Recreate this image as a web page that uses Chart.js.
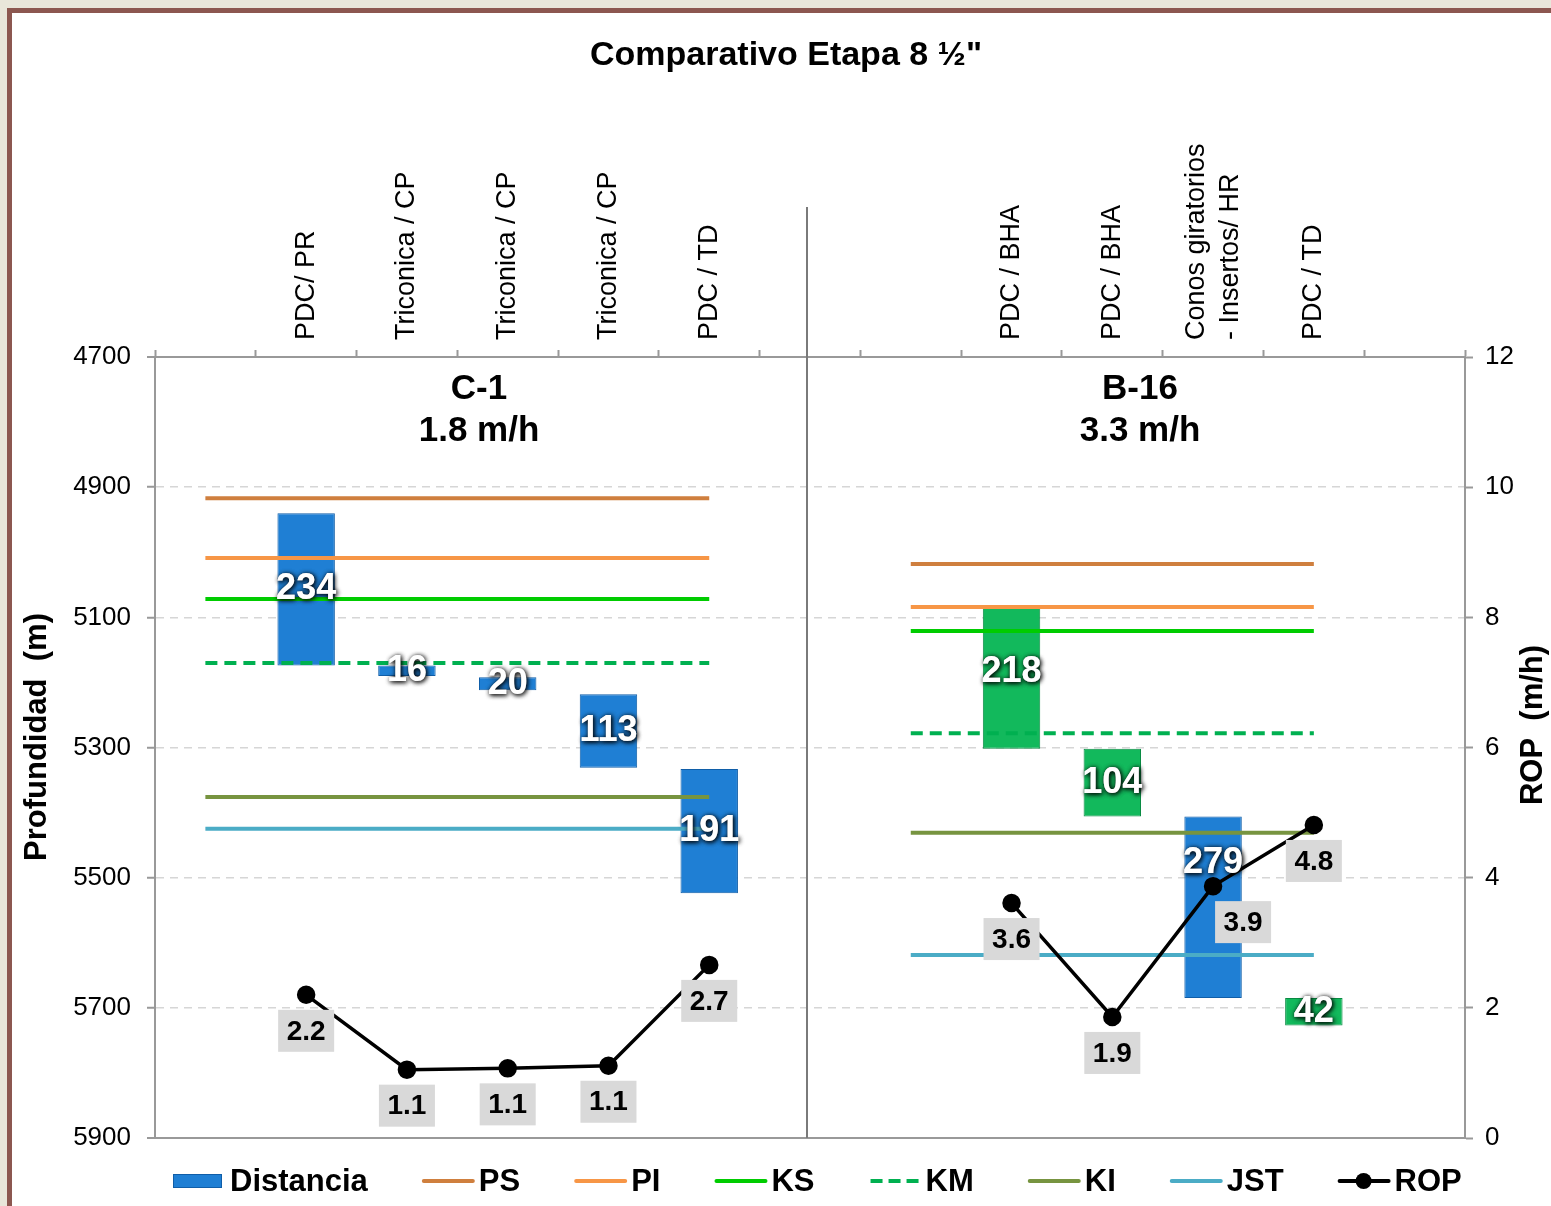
<!DOCTYPE html>
<html>
<head>
<meta charset="utf-8">
<script src="https://cdn.jsdelivr.net/npm/chart.js@4.4.1/dist/chart.umd.min.js"></script>
<style>
  html, body { margin: 0; padding: 0; background: #e9e6da; overflow: hidden; }
  #frame { position: absolute; left: 7px; top: 8px; width: 1600px; height: 1300px; border: 5px solid #8c5750; background: #fff; }
  #wrap { position: absolute; left: 0; top: 0; width: 1551px; height: 1206px; }
</style>
</head>
<body>
<div id="frame"></div>
<div id="wrap"><canvas id="depthChart" width="1551" height="1206"></canvas></div>
<script>
const categories = ['', 'PDC/ PR', 'Triconica / CP', 'Triconica / CP', 'Triconica / CP', 'PDC / TD', '', '',
    'PDC / BHA', 'PDC / BHA', ['Conos giratorios', '- Insertos/ HR'], 'PDC / TD', ''];

// tramo perforado por corrida (m)
const depthFrom = [null, 4940, 5174, 5192, 5218, 5333, null, null, 5084, 5302, 5406, 5685, null];
const depthTo   = [null, 5174, 5190, 5212, 5331, 5524, null, null, 5302, 5406, 5685, 5727, null];

// ROP por corrida (m/h)
const rop = [null, 2.2, 1.05, 1.07, 1.11, 2.66, null, null, 3.61, 1.86, 3.87, 4.81, null];

// topes de formacion [C-1, B-16]
const topPS  = [4917, 5018];
const topPI  = [5009, 5084];
const topKS  = [5072, 5121];
const topKM  = [5170, 5278];
const topKI  = [5376, 5431];
const topJST = [5425, 5619];

const wells = ['C-1', 'B-16'];
const wellRop = ['1.8 m/h', '3.3 m/h'];
const wellSpan = [[0, 5], [7, 11]];

const depthTicks = [4700, 4900, 5100, 5300, 5500, 5700, 5900];
const ropTicks = [0, 2, 4, 6, 8, 10, 12];

const BLUE = '#1f7fd4';
const GREEN = '#12b95c';
const greenRuns = [8, 9, 11];
const FONT = '"Liberation Sans", Arial, sans-serif';

function formationLine(tops) {
    return categories.map((c, i) => {
        const w = wellSpan.findIndex(s => i >= s[0] && i <= s[1]);
        return w < 0 ? null : tops[w];
    });
}

const runs = categories.map((c, i) => depthFrom[i] == null ? null : [depthFrom[i], depthTo[i]]);
const barColors = categories.map((c, i) => greenRuns.includes(i) ? GREEN : BLUE);
const barBorders = categories.map((c, i) => greenRuns.includes(i) ? '#0a8a43' : '#105ea8');

const formations = [
    { label: 'PS', tops: topPS, color: '#cf7f3e' },
    { label: 'PI', tops: topPI, color: '#f79646' },
    { label: 'KS', tops: topKS, color: '#00cc00' },
    { label: 'KM', tops: topKM, color: '#00b050', dash: [12, 7] },
    { label: 'KI', tops: topKI, color: '#779440' },
    { label: 'JST', tops: topJST, color: '#4bacc6' }
];

const lineSets = formations.map(f => ({
    type: 'line',
    label: f.label,
    data: formationLine(f.tops),
    yAxisID: 'y',
    borderColor: f.color,
    borderWidth: 4,
    borderDash: f.dash || [],
    pointRadius: 0,
    spanGaps: false,
    fill: false,
    order: 5
}));

// label tweaks (px)
const barLabelDy = { 8: -6, 10: -44 };
const ropLabelDx = { 10: 30 };

const decor = {
    id: 'decor',
    beforeDatasetsDraw(chart) {
        const { ctx, chartArea, scales } = chart;
        const x = scales.x.getPixelForValue(6) - 3;
        ctx.save();
        ctx.strokeStyle = '#7a7a7a';
        ctx.lineWidth = 2;
        ctx.beginPath();
        ctx.moveTo(x, 207);
        ctx.lineTo(x, chartArea.bottom);
        ctx.stroke();
        ctx.restore();
    },
    afterDatasetsDraw(chart) {
        const { ctx } = chart;
        const barMeta = chart.getDatasetMeta(0);
        ctx.save();
        ctx.textAlign = 'center';
        ctx.textBaseline = 'middle';
        ctx.font = 'bold 36px ' + FONT;
        barMeta.data.forEach((el, i) => {
            if (!runs[i]) return;
            const txt = String(depthTo[i] - depthFrom[i]);
            const y = (el.y + el.base) / 2 + (barLabelDy[i] || 0);
            ctx.shadowColor = 'rgba(0,0,0,0.85)';
            ctx.shadowBlur = 5;
            ctx.shadowOffsetX = 1;
            ctx.shadowOffsetY = 1;
            ctx.fillStyle = '#fff';
            ctx.fillText(txt, el.x, y);
            ctx.fillText(txt, el.x, y);
        });
        ctx.shadowBlur = 0;
        ctx.shadowOffsetX = 0;
        ctx.shadowOffsetY = 0;
        ctx.shadowColor = 'transparent';

        const ropMeta = chart.getDatasetMeta(chart.data.datasets.length - 1);
        ctx.font = 'bold 28px ' + FONT;
        ropMeta.data.forEach((pt, i) => {
            if (rop[i] == null) return;
            const cx = pt.x + (ropLabelDx[i] || 0);
            const cy = pt.y + 36;
            ctx.fillStyle = '#d9d9d9';
            ctx.fillRect(cx - 28, cy - 21, 56, 42);
            ctx.fillStyle = '#000';
            ctx.fillText(rop[i].toFixed(1), cx, cy + 1);
        });
        ctx.restore();
    },
    afterDraw(chart) {
        const { ctx, chartArea, scales } = chart;
        ctx.save();
        ctx.fillStyle = '#000';
        ctx.textAlign = 'center';
        ctx.textBaseline = 'middle';

        ctx.font = 'bold 34px ' + FONT;
        ctx.fillText('Comparativo Etapa 8 \u00bd"', 786, 56);

        // panel titles
        const mid = scales.x.getPixelForValue(6) - 3;
        const centers = [(chartArea.left + mid) / 2 - 2, (mid + chartArea.right) / 2 + 4];
        ctx.font = 'bold 35px ' + FONT;
        wells.forEach((w, k) => {
            ctx.fillText(w, centers[k], 389);
            ctx.fillText(wellRop[k], centers[k], 431);
        });

        // axis titles
        ctx.font = 'bold 31px ' + FONT;
        ctx.save();
        ctx.translate(37, 737);
        ctx.rotate(-Math.PI / 2);
        ctx.fillText('Profundidad  (m)', 0, 0);
        ctx.restore();
        ctx.save();
        ctx.translate(1533, 725);
        ctx.rotate(-Math.PI / 2);
        ctx.fillText('ROP  (m/h)', 0, 0);
        ctx.restore();

        // legend
        const items = [{ label: 'Distancia', kind: 'bar' }]
            .concat(formations.map(f => ({ label: f.label, kind: 'line', color: f.color, dash: f.dash })))
            .concat([{ label: 'ROP', kind: 'rop' }]);
        ctx.font = 'bold 31px ' + FONT;
        ctx.textAlign = 'left';
        let x = 173;
        const y = 1181;
        items.forEach(it => {
            if (it.kind === 'bar') {
                ctx.fillStyle = BLUE;
                ctx.fillRect(x, y - 7, 49, 14);
                ctx.strokeStyle = '#105ea8';
                ctx.lineWidth = 1;
                ctx.strokeRect(x + 0.5, y - 6.5, 48, 13);
            } else {
                ctx.strokeStyle = it.kind === 'rop' ? '#000' : it.color;
                ctx.lineWidth = 4;
                ctx.lineCap = it.dash ? 'butt' : 'round';
                ctx.setLineDash(it.dash ? [12, 6] : []);
                ctx.beginPath();
                ctx.moveTo(x + 2, y);
                ctx.lineTo(x + 51, y);
                ctx.stroke();
                ctx.setLineDash([]);
                if (it.kind === 'rop') {
                    ctx.fillStyle = '#000';
                    ctx.beginPath();
                    ctx.arc(x + 26, y, 8, 0, Math.PI * 2);
                    ctx.fill();
                }
            }
            ctx.fillStyle = '#000';
            const tx = x + 57;
            ctx.fillText(it.label, tx, y + 1);
            x = tx + ctx.measureText(it.label).width + 54;
        });
        ctx.restore();
    }
};

const depthCtx = document.getElementById('depthChart');

new Chart(depthCtx, {
    type: 'bar',
    data: {
        labels: categories,
        datasets: [{
            label: 'Distancia',
            data: runs,
            yAxisID: 'y',
            backgroundColor: barColors,
            borderColor: barBorders,
            borderWidth: 1,
            borderSkipped: false,
            barPercentage: 0.57,
            categoryPercentage: 1,
            order: 10
        }].concat(lineSets, [{
            type: 'line',
            label: 'ROP',
            data: rop,
            yAxisID: 'y2',
            borderColor: '#000',
            borderWidth: 3.5,
            pointRadius: 7.5,
            pointBackgroundColor: '#000',
            pointBorderColor: '#000',
            spanGaps: false,
            fill: false,
            order: 1
        }])
    },
    options: {
        responsive: false,
        animation: false,
        layout: { padding: { top: 0, bottom: 68, left: 0, right: 0 } },
        plugins: {
            legend: { display: false },
            title: { display: false },
            tooltip: { enabled: false }
        },
        scales: {
            x: {
                position: 'top',
                offset: true,
                grid: { offset: true, drawOnChartArea: false, tickLength: 7, tickColor: '#999', tickWidth: 2 },
                border: { color: '#999', width: 2 },
                ticks: {
                    autoSkip: false, maxRotation: 90, minRotation: 90,
                    color: '#000', padding: 10,
                    labelOffset: 51,
                    font: c => ({
                        family: FONT, size: 27,
                        lineHeight: Array.isArray(categories[c.index]) ? '34px' : '51px'
                    })
                },
                afterFit(scale) { scale.height = 357; }
            },
            y: {
                position: 'left',
                reverse: true,
                min: depthTicks[0],
                max: depthTicks[depthTicks.length - 1],
                ticks: {
                    stepSize: depthTicks[1] - depthTicks[0],
                    color: '#000', padding: 16,
                    font: { family: FONT, size: 26 },
                    callback: v => String(v)
                },
                grid: {
                    color: c => (c.index === 0 || c.index === depthTicks.length - 1) ? '#999' : '#d6d6d6',
                    lineWidth: c => (c.index === 0 || c.index === depthTicks.length - 1) ? 2 : 1.5,
                    tickColor: '#999', tickLength: 8, tickWidth: 2
                },
                border: {
                    color: '#999', width: 2,
                    dash: c => (c.index === 0 || c.index === depthTicks.length - 1) ? [] : [8, 6]
                },
                afterFit(scale) { scale.width = 155; }
            },
            y2: {
                position: 'right',
                min: ropTicks[0],
                max: ropTicks[ropTicks.length - 1],
                ticks: {
                    stepSize: ropTicks[1] - ropTicks[0],
                    color: '#000', padding: 12,
                    font: { family: FONT, size: 26 }
                },
                grid: { drawOnChartArea: false, tickColor: '#999', tickLength: 8, tickWidth: 2 },
                border: { color: '#999', width: 2 },
                afterFit(scale) { scale.width = 86; }
            }
        }
    },
    plugins: [decor]
});
</script>
</body>
</html>
